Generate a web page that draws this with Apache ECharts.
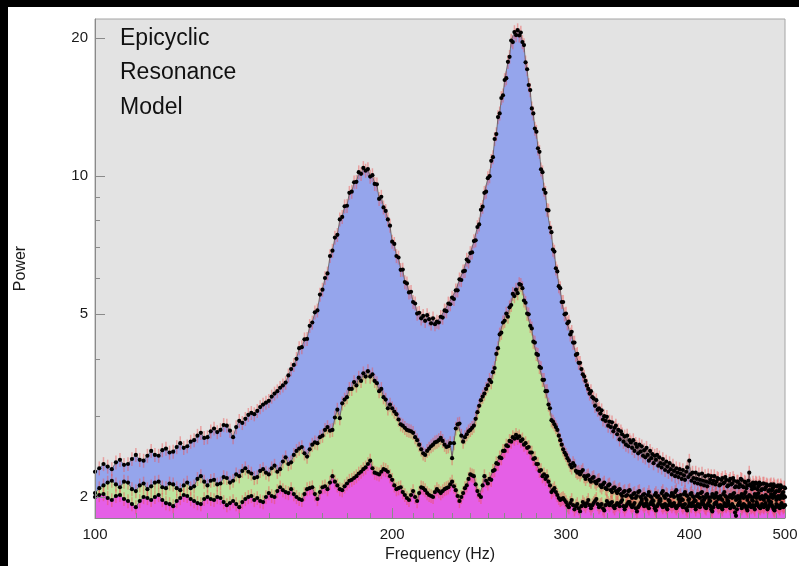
<!DOCTYPE html>
<html>
<head>
<meta charset="utf-8">
<script src="https://cdn.jsdelivr.net/npm/echarts@6/dist/echarts.min.js"></script>
<style>
  html, body { margin: 0; padding: 0; background: #000; width: 799px; height: 566px; overflow: hidden; }
  #chart { position: absolute; left: 8px; top: 7px; width: 791px; height: 559px; background: #fff; }
</style>
</head>
<body>
<div id="chart"></div>
<script>
// Frequency grid of the power spectra (Hz)
const freqStart = 100;
const freqStep = 1;

// Axis ticks
const xTickLabels = [100, 200, 300, 400, 500];
const xMinorTicks = [110, 120, 130, 140, 150, 160, 170, 180, 190,
                     210, 220, 230, 240, 250, 260, 270, 280, 290,
                     310, 320, 330, 340, 350, 360, 370, 380, 390,
                     410, 420, 430, 440, 450, 460, 470, 480, 490];
const yTickLabels = [2, 5, 10, 20];
const yMinorTicks = [3, 4, 6, 7, 8, 9];

const annotationLines = ['Epicyclic', 'Resonance', 'Model'];

// Relative size of the error bars
const relError = 0.035;

// Full model power (upper curve), 100-500 Hz in 1 Hz steps
const powerUpper = [
  2.27, 2.31, 2.36, 2.33, 2.30, 2.38, 2.41, 2.35, 2.36, 2.42, // 100
  2.47, 2.41, 2.40, 2.46, 2.52, 2.47, 2.46, 2.53, 2.55, 2.50, // 110
  2.51, 2.57, 2.62, 2.56, 2.58, 2.64, 2.66, 2.72, 2.76, 2.69, // 120
  2.70, 2.78, 2.82, 2.77, 2.80, 2.87, 2.86, 2.79, 2.70, 2.84, // 130
  2.93, 2.90, 2.96, 3.02, 3.05, 3.03, 3.08, 3.14, 3.18, 3.21, // 140
  3.24, 3.31, 3.36, 3.40, 3.46, 3.50, 3.55, 3.68, 3.80, 3.88, // 150
  4.00, 4.22, 4.24, 4.41, 4.42, 4.72, 4.80, 5.05, 5.10, 5.52, // 160
  5.66, 6.00, 6.14, 6.70, 6.88, 7.35, 7.45, 8.05, 8.15, 8.60, // 170
  8.62, 9.20, 9.25, 9.70, 9.72, 10.20, 10.12, 10.42, 10.28, 10.36, // 180
  9.98, 10.05, 9.62, 9.60, 8.92, 9.02, 8.55, 8.40, 8.05, 7.80, // 190
  7.20, 7.12, 6.70, 6.65, 6.25, 6.26, 5.88, 5.84, 5.58, 5.60, // 200
  5.32, 5.28, 5.02, 5.04, 4.90, 4.96, 4.84, 4.98, 4.88, 4.78, // 210
  4.90, 4.76, 4.82, 4.80, 4.94, 4.92, 5.10, 5.08, 5.28, 5.26, // 220
  5.44, 5.40, 5.64, 5.64, 5.96, 5.94, 6.20, 6.22, 6.58, 6.52, // 230
  6.80, 6.82, 7.22, 7.25, 7.75, 7.85, 8.45, 8.58, 9.20, 9.25, // 240
  9.90, 10.00, 10.80, 11.00, 12.05, 12.35, 13.45, 13.70, 14.80, 15.00, // 250
  16.20, 16.35, 17.75, 18.20, 19.75, 19.60, 20.60, 20.30, 20.80, 20.25, // 260
  20.55, 19.60, 19.30, 17.70, 17.10, 15.80, 15.40, 14.05, 13.70, 12.70, // 270
  12.50, 11.50, 11.30, 10.35, 10.20, 9.35, 9.20, 8.45, 8.42, 7.72, // 280
  7.55, 6.92, 6.85, 6.30, 6.20, 5.76, 5.70, 5.32, 5.32, 5.00, // 290
  5.02, 4.78, 4.82, 4.52, 4.58, 4.34, 4.34, 4.08, 4.10, 3.92, // 300
  3.92, 3.80, 3.70, 3.66, 3.58, 3.50, 3.44, 3.36, 3.40, 3.30, // 310
  3.28, 3.16, 3.25, 3.10, 3.12, 3.04, 3.09, 2.95, 3.00, 2.93, // 320
  2.99, 2.86, 2.92, 2.84, 2.91, 2.78, 2.83, 2.86, 2.74, 2.80, // 330
  2.67, 2.78, 2.74, 2.64, 2.71, 2.60, 2.72, 2.58, 2.66, 2.63, // 340
  2.56, 2.66, 2.52, 2.61, 2.57, 2.49, 2.60, 2.51, 2.58, 2.46, // 350
  2.53, 2.44, 2.56, 2.47, 2.40, 2.52, 2.43, 2.48, 2.37, 2.46, // 360
  2.41, 2.47, 2.34, 2.44, 2.37, 2.32, 2.42, 2.36, 2.29, 2.39, // 370
  2.33, 2.27, 2.37, 2.30, 2.24, 2.34, 2.28, 2.22, 2.31, 2.26, // 380
  2.21, 2.30, 2.25, 2.19, 2.29, 2.23, 2.18, 2.27, 2.32, 2.21, // 390
  2.40, 2.24, 2.17, 2.26, 2.20, 2.15, 2.26, 2.19, 2.14, 2.24, // 400
  2.18, 2.13, 2.25, 2.17, 2.12, 2.22, 2.16, 2.11, 2.23, 2.15, // 410
  2.18, 2.22, 2.14, 2.17, 2.22, 2.13, 2.16, 2.20, 2.19, 2.12, // 420
  2.13, 2.18, 2.20, 2.14, 2.15, 2.21, 2.18, 2.11, 2.12, 2.17, // 430
  2.19, 2.13, 2.14, 2.20, 2.17, 2.10, 2.11, 2.16, 2.16, 2.10, // 440
  2.13, 2.19, 2.18, 2.11, 2.10, 2.16, 2.15, 2.09, 2.12, 2.17, // 450
  2.26, 2.13, 2.11, 2.08, 2.15, 2.12, 2.09, 2.15, 2.14, 2.08, // 460
  2.11, 2.15, 2.13, 2.07, 2.08, 2.14, 2.14, 2.08, 2.10, 2.13, // 470
  2.12, 2.06, 2.07, 2.12, 2.13, 2.07, 2.09, 2.13, 2.11, 2.05, // 480
  2.06, 2.11, 2.12, 2.06, 2.08, 2.12, 2.10, 2.04, 2.05, 2.10, // 490
  2.09
];

// Middle component power
const powerMiddle = [
  2.04, 2.09, 2.12, 2.15, 2.17, 2.13, 2.10, 2.16, 2.15, 2.08, // 100
  2.06, 2.12, 2.14, 2.08, 2.11, 2.15, 2.16, 2.10, 2.09, 2.14, // 110
  2.13, 2.09, 2.07, 2.12, 2.15, 2.09, 2.11, 2.19, 2.22, 2.16, // 120
  2.12, 2.17, 2.18, 2.13, 2.14, 2.21, 2.20, 2.15, 2.17, 2.24, // 130
  2.22, 2.28, 2.31, 2.27, 2.25, 2.20, 2.21, 2.28, 2.30, 2.26, // 140
  2.24, 2.31, 2.34, 2.27, 2.30, 2.39, 2.44, 2.36, 2.38, 2.47, // 150
  2.52, 2.55, 2.57, 2.49, 2.45, 2.54, 2.60, 2.63, 2.62, 2.70, // 160
  2.72, 2.80, 2.84, 2.79, 2.80, 2.98, 3.10, 2.97, 3.20, 3.26, // 170
  3.30, 3.44, 3.44, 3.56, 3.50, 3.64, 3.58, 3.72, 3.66, 3.76, // 180
  3.66, 3.70, 3.58, 3.54, 3.40, 3.44, 3.30, 3.26, 3.12, 3.18, // 190
  3.12, 3.07, 3.03, 2.95, 2.88, 2.86, 2.83, 2.80, 2.79, 2.78, // 200
  2.76, 2.70, 2.66, 2.60, 2.54, 2.49, 2.47, 2.52, 2.55, 2.58, // 210
  2.60, 2.63, 2.64, 2.66, 2.69, 2.65, 2.60, 2.57, 2.58, 2.62, // 220
  2.43, 2.62, 2.82, 2.88, 2.89, 2.72, 2.64, 2.70, 2.74, 2.78, // 230
  2.80, 2.83, 2.86, 2.96, 3.06, 3.16, 3.25, 3.31, 3.36, 3.44, // 240
  3.50, 3.60, 3.56, 3.74, 3.82, 4.10, 4.22, 4.52, 4.56, 4.80, // 250
  4.84, 5.02, 4.94, 5.18, 5.24, 5.54, 5.48, 5.66, 5.56, 5.82, // 260
  5.80, 5.70, 5.36, 5.30, 5.02, 5.00, 4.72, 4.66, 4.36, 4.34, // 270
  4.10, 4.08, 3.84, 3.82, 3.60, 3.60, 3.40, 3.40, 3.18, 3.12, // 280
  2.94, 2.92, 2.88, 2.84, 2.80, 2.72, 2.66, 2.60, 2.54, 2.50, // 290
  2.47, 2.43, 2.40, 2.35, 2.32, 2.37, 2.34, 2.28, 2.26, 2.27, // 300
  2.24, 2.27, 2.29, 2.22, 2.19, 2.22, 2.23, 2.18, 2.16, 2.20, // 310
  2.21, 2.16, 2.14, 2.17, 2.18, 2.12, 2.10, 2.13, 2.15, 2.09, // 320
  2.08, 2.12, 2.13, 2.07, 2.05, 2.09, 2.10, 2.06, 2.04, 2.07, // 330
  2.08, 2.03, 2.01, 2.05, 2.06, 2.01, 2.02, 2.06, 2.07, 2.01, // 340
  1.99, 2.03, 2.04, 1.99, 2.01, 2.05, 2.06, 2.00, 1.98, 2.02, // 350
  2.03, 1.99, 1.97, 2.02, 2.05, 2.01, 2.00, 1.97, 1.96, 2.02, // 360
  2.04, 2.00, 2.01, 1.97, 1.98, 2.04, 2.06, 2.01, 1.99, 2.03, // 370
  2.02, 1.97, 1.96, 2.01, 2.04, 2.02, 2.00, 2.05, 2.07, 2.01, // 380
  1.98, 2.01, 2.02, 1.98, 1.97, 2.03, 2.05, 2.02, 2.01, 1.97, // 390
  1.98, 2.03, 2.04, 2.01, 2.00, 1.97, 1.96, 2.01, 2.03, 2.00, // 400
  1.99, 2.04, 2.05, 2.00, 1.97, 1.99, 2.02, 2.03, 2.00, 1.97, // 410
  1.96, 2.00, 2.03, 2.01, 1.99, 2.02, 2.04, 2.00, 1.98, 2.00, // 420
  2.01, 1.98, 1.97, 2.03, 2.05, 2.01, 2.00, 1.97, 1.96, 2.00, // 430
  2.02, 2.00, 1.99, 2.03, 2.04, 2.00, 1.97, 1.98, 2.01, 2.00, // 440
  1.98, 2.01, 2.03, 2.00, 1.99, 2.03, 2.05, 2.00, 1.97, 2.00, // 450
  2.02, 2.01, 2.00, 1.97, 1.96, 2.00, 2.03, 2.01, 1.99, 2.03, // 460
  2.04, 2.00, 1.98, 2.00, 2.01, 1.99, 1.97, 2.00, 2.02, 2.00, // 470
  2.00, 1.97, 1.96, 2.00, 2.03, 2.01, 1.99, 2.02, 2.04, 2.00, // 480
  1.97, 1.99, 2.01, 2.00, 1.98, 2.01, 2.02, 2.00, 1.99, 2.01, // 490
  2.00
];

// Lower component power
const powerLower = [
  2.00, 2.02, 2.03, 1.99, 1.97, 2.01, 2.02, 1.98, 1.96, 1.93, // 100
  1.90, 1.96, 2.00, 1.99, 1.97, 2.00, 2.02, 1.97, 1.94, 1.93, // 110
  1.91, 1.96, 1.99, 2.02, 2.01, 1.98, 1.96, 1.94, 1.93, 1.98, // 120
  2.00, 1.98, 1.97, 2.00, 1.99, 1.95, 1.92, 1.94, 1.96, 1.93, // 130
  1.90, 1.95, 1.98, 2.00, 2.01, 1.97, 1.99, 1.96, 1.95, 2.00, // 140
  2.04, 2.01, 2.00, 2.06, 2.10, 2.07, 2.05, 2.04, 2.08, 2.03, // 150
  2.00, 1.98, 1.97, 2.03, 2.08, 2.09, 2.10, 2.03, 1.98, 2.05, // 160
  2.10, 2.11, 2.08, 2.15, 2.22, 2.16, 2.12, 2.08, 2.07, 2.11, // 170
  2.14, 2.17, 2.18, 2.20, 2.22, 2.25, 2.27, 2.30, 2.32, 2.36, // 180
  2.40, 2.31, 2.26, 2.25, 2.24, 2.27, 2.30, 2.29, 2.27, 2.22, // 190
  2.18, 2.12, 2.08, 2.09, 2.10, 2.05, 2.02, 1.99, 1.97, 2.02, // 200
  2.06, 2.00, 1.96, 2.04, 2.10, 2.09, 2.07, 2.04, 2.02, 2.01, // 210
  2.00, 2.05, 2.08, 2.06, 2.04, 2.06, 2.08, 2.09, 2.10, 2.13, // 220
  2.16, 2.11, 2.07, 2.01, 1.96, 2.00, 2.04, 2.09, 2.12, 2.19, // 230
  2.24, 2.23, 2.22, 2.13, 2.06, 2.02, 2.00, 2.12, 2.22, 2.17, // 240
  2.14, 2.19, 2.18, 2.28, 2.29, 2.37, 2.36, 2.44, 2.43, 2.52, // 250
  2.52, 2.59, 2.58, 2.65, 2.64, 2.70, 2.68, 2.73, 2.69, 2.71, // 260
  2.65, 2.67, 2.60, 2.62, 2.56, 2.57, 2.50, 2.50, 2.42, 2.43, // 270
  2.36, 2.36, 2.28, 2.29, 2.22, 2.24, 2.19, 2.22, 2.16, 2.12, // 280
  2.05, 2.07, 2.09, 2.05, 2.02, 1.99, 1.97, 1.98, 1.99, 1.97, // 290
  1.95, 1.92, 1.90, 1.94, 1.97, 1.92, 1.88, 1.91, 1.93, 1.89, // 300
  1.86, 1.91, 1.95, 1.93, 1.91, 1.94, 1.97, 1.92, 1.89, 1.92, // 310
  1.94, 1.96, 1.98, 1.93, 1.90, 1.92, 1.93, 1.89, 1.87, 1.92, // 320
  1.96, 1.94, 1.92, 1.94, 1.95, 1.91, 1.89, 1.92, 1.94, 1.93, // 330
  1.91, 1.95, 1.97, 1.91, 1.88, 1.91, 1.93, 1.95, 1.95, 1.92, // 340
  1.90, 1.92, 1.94, 1.89, 1.86, 1.90, 1.92, 1.94, 1.96, 1.93, // 350
  1.91, 1.93, 1.94, 1.91, 1.89, 1.93, 1.95, 1.93, 1.92, 1.89, // 360
  1.87, 1.91, 1.93, 1.95, 1.96, 1.92, 1.90, 1.92, 1.93, 1.90, // 370
  1.88, 1.92, 1.95, 1.93, 1.91, 1.93, 1.94, 1.91, 1.89, 1.91, // 380
  1.92, 1.95, 1.96, 1.92, 1.90, 1.92, 1.93, 1.89, 1.87, 1.91, // 390
  1.94, 1.92, 1.91, 1.94, 1.95, 1.91, 1.88, 1.91, 1.93, 1.91, // 400
  1.90, 1.93, 1.96, 1.94, 1.92, 1.90, 1.89, 1.92, 1.94, 1.92, // 410
  1.91, 1.88, 1.86, 1.90, 1.93, 1.94, 1.95, 1.92, 1.90, 1.91, // 420
  1.92, 1.90, 1.88, 1.91, 1.94, 1.92, 1.91, 1.93, 1.95, 1.92, // 430
  1.89, 1.91, 1.93, 1.91, 1.90, 1.85, 1.82, 1.88, 1.92, 1.94, // 440
  1.95, 1.92, 1.89, 1.91, 1.93, 1.92, 1.91, 1.89, 1.87, 1.91, // 450
  1.94, 1.92, 1.90, 1.91, 1.92, 1.90, 1.88, 1.92, 1.95, 1.93, // 460
  1.91, 1.90, 1.89, 1.91, 1.93, 1.91, 1.90, 1.92, 1.94, 1.91, // 470
  1.88, 1.90, 1.92, 1.94, 1.95, 1.92, 1.90, 1.88, 1.87, 1.90, // 480
  1.93, 1.92, 1.91, 1.90, 1.89, 1.92, 1.94, 1.92, 1.90, 1.91, // 490
  1.92
];

const fillColors = ['#95a5ec', '#bde5a0', '#e55fe6'];
const curves = [powerUpper, powerMiddle, powerLower];

function toPairs(values) {
  return values.map((v, i) => [freqStart + i * freqStep, v]);
}
function toErrorBars(values) {
  return values.map((v, i) => [freqStart + i * freqStep, v * (1 - relError), v * (1 + relError)]);
}

const series = [];
// filled areas, drawn from the top curve down
curves.forEach((vals, k) => {
  series.push({
    type: 'line',
    data: toPairs(vals),
    showSymbol: false,
    lineStyle: { width: 0 },
    areaStyle: { color: fillColors[k], opacity: 1, origin: 'start' },
    z: 1 + k,
    silent: true
  });
});
// error bars
curves.forEach((vals) => {
  series.push({
    type: 'custom',
    data: toErrorBars(vals),
    clip: true,
    z: 5,
    silent: true,
    renderItem(params, api) {
      const f = api.value(0);
      const lo = api.coord([f, api.value(1)]);
      const hi = api.coord([f, api.value(2)]);
      return {
        type: 'line',
        shape: { x1: lo[0], y1: lo[1], x2: hi[0], y2: hi[1] },
        style: { stroke: 'rgba(238,80,80,0.45)', lineWidth: 1.5 }
      };
    }
  });
});
// data points joined by a thin line
curves.forEach((vals) => {
  series.push({
    type: 'line',
    data: toPairs(vals),
    symbol: 'circle',
    symbolSize: 4.2,
    showSymbol: true,
    showAllSymbol: true,
    itemStyle: { color: '#000', borderWidth: 0 },
    lineStyle: { color: '#4a4a4a', width: 0.7 },
    z: 6,
    silent: true
  });
});

const chart = echarts.init(document.getElementById('chart'), null, { renderer: 'canvas' });
const labelFont = { fontFamily: 'Liberation Sans', fontSize: 15, color: '#1a1a1a' };
const axisGray = '#8a8a8a';

chart.setOption({
  animation: false,
  textStyle: { fontFamily: 'Liberation Sans' },
  grid: {
    left: 87, right: 14, top: 12, bottom: 48,
    show: true, backgroundColor: '#e3e3e3', borderColor: '#a4a4a4', borderWidth: 1,
    containLabel: false, outerBoundsMode: 'none'
  },
  xAxis: [
    {
      type: 'log', min: 100, max: 500, position: 'bottom', z: 10,
      name: 'Frequency (Hz)', nameLocation: 'middle', nameGap: 23,
      nameTextStyle: { fontFamily: 'Liberation Sans', fontSize: 16, color: '#1a1a1a' },
      axisLine: { show: true, lineStyle: { color: axisGray, width: 1 } },
      axisTick: { show: true, inside: true, length: 10, customValues: xTickLabels, lineStyle: { color: axisGray } },
      axisLabel: Object.assign({ margin: 9, customValues: xTickLabels }, labelFont),
      splitLine: { show: false }, minorTick: { show: false }
    },
    {
      type: 'log', min: 100, max: 500, position: 'bottom', z: 10,
      axisLine: { show: false },
      axisTick: { show: true, inside: true, length: 5, customValues: xMinorTicks, lineStyle: { color: axisGray } },
      axisLabel: { show: false },
      splitLine: { show: false }
    }
  ],
  yAxis: [
    {
      type: 'log', min: 1.8, max: 22, position: 'left', z: 10,
      name: 'Power', nameLocation: 'middle', nameGap: 66, nameRotate: 90,
      nameTextStyle: { fontFamily: 'Liberation Sans', fontSize: 16, color: '#1a1a1a' },
      axisLine: { show: true, lineStyle: { color: axisGray, width: 1 } },
      axisTick: { show: true, inside: true, length: 10, customValues: yTickLabels, lineStyle: { color: axisGray } },
      axisLabel: Object.assign({ margin: 7, customValues: yTickLabels }, labelFont),
      splitLine: { show: false }, minorTick: { show: false }
    },
    {
      type: 'log', min: 1.8, max: 22, position: 'left', z: 10,
      axisLine: { show: false },
      axisTick: { show: true, inside: true, length: 5, customValues: yMinorTicks, lineStyle: { color: axisGray } },
      axisLabel: { show: false },
      splitLine: { show: false }
    }
  ],
  graphic: annotationLines.map((line, i) => ({
    type: 'text',
    left: 112,
    top: 20 + i * 34.5,
    z: 20,
    style: { text: line, fontFamily: 'Liberation Sans', fontSize: 23, fill: '#111' }
  })),
  series: series
});
</script>
</body>
</html>
